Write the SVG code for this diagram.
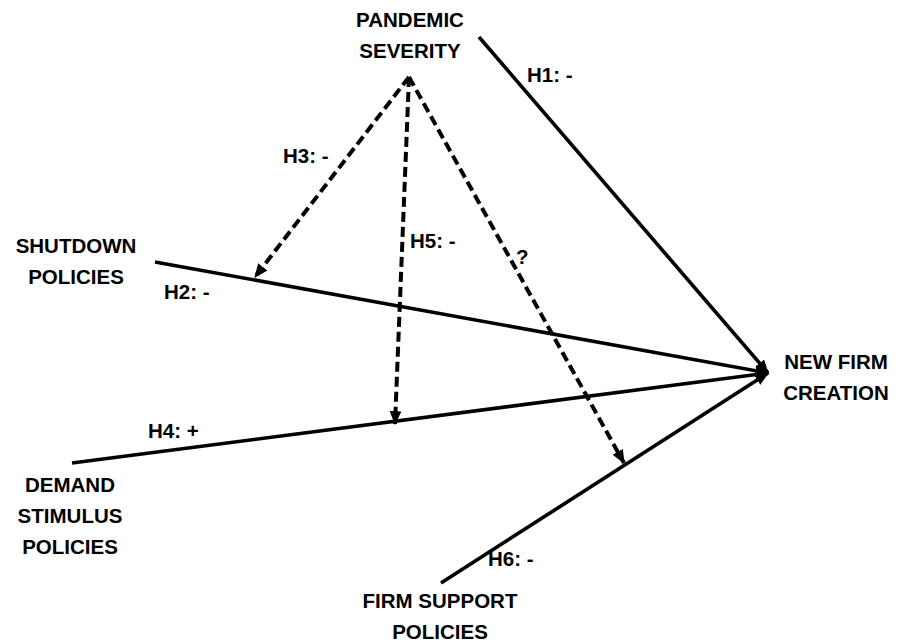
<svg xmlns="http://www.w3.org/2000/svg" width="901" height="644" viewBox="0 0 901 644">
<style>
  text { font-family: "Liberation Sans", Arial, sans-serif; font-weight: bold; font-size: 20.5px; fill: #000; }
  .c { text-anchor: middle; }
  .solid { stroke: #000; stroke-width: 3.6; fill: none; }
  .dash { stroke: #000; stroke-width: 4; fill: none; stroke-dasharray: 10 5; }
</style>
<defs>
  <marker id="ah" viewBox="0 0 12 10" refX="11" refY="5" markerWidth="14" markerHeight="12" markerUnits="userSpaceOnUse" orient="auto">
    <path d="M0,0 L12,5 L0,10 z" fill="#000"/>
  </marker>
</defs>
<rect width="901" height="644" fill="#fff"/>
<g id="connectors">
  <line id="h1" class="solid" x1="479" y1="37" x2="768" y2="373" marker-end="url(#ah)"/>
  <line id="h2" class="solid" x1="155" y1="262" x2="768" y2="373" marker-end="url(#ah)"/>
  <line id="h4" class="solid" x1="72" y1="463" x2="768" y2="373" marker-end="url(#ah)"/>
  <line id="h6" class="solid" x1="441" y1="583" x2="768" y2="373" marker-end="url(#ah)"/>
  <line id="h3" class="dash" x1="409" y1="77" x2="255" y2="277" marker-end="url(#ah)"/>
  <line id="h5" class="dash" x1="409" y1="77" x2="395" y2="424" marker-end="url(#ah)"/>
  <line id="hq" class="dash" x1="409" y1="77" x2="624" y2="463" marker-end="url(#ah)"/>
  <text x="527" y="82">H1: -</text>
  <text x="283" y="163">H3: -</text>
  <text x="410" y="248">H5: -</text>
  <text x="516" y="264">?</text>
  <text x="164" y="299">H2: -</text>
  <text x="148" y="438">H4: +</text>
  <text x="488" y="566">H6: -</text>
</g>
<g id="pandemic">
  <text class="c" x="410" y="27">PANDEMIC</text>
  <text class="c" x="410" y="58">SEVERITY</text>
</g>
<g id="shutdown">
  <text class="c" x="76" y="253">SHUTDOWN</text>
  <text class="c" x="76" y="284">POLICIES</text>
</g>
<g id="demand">
  <text class="c" x="70" y="492">DEMAND</text>
  <text class="c" x="70" y="523">STIMULUS</text>
  <text class="c" x="70" y="554">POLICIES</text>
</g>
<g id="firmsupport">
  <text class="c" x="440" y="608">FIRM SUPPORT</text>
  <text class="c" x="440" y="639">POLICIES</text>
</g>
<g id="newfirm">
  <text class="c" x="836" y="369">NEW FIRM</text>
  <text class="c" x="836" y="400">CREATION</text>
</g>
</svg>
